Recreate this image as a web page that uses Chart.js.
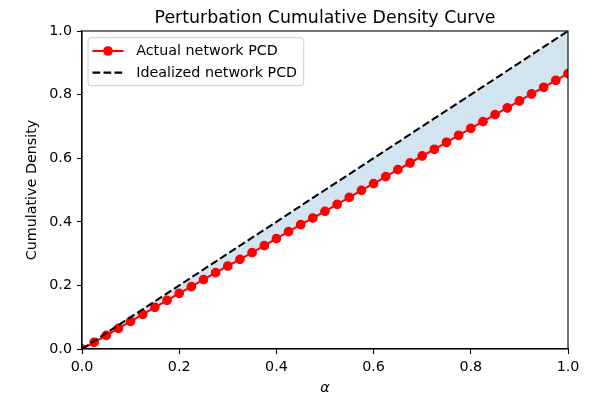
<!DOCTYPE html>
<html>
<head>
<meta charset="utf-8">
<script src="https://cdn.jsdelivr.net/npm/chart.js@4.4.1/dist/chart.umd.min.js"></script>
<style>
html,body{margin:0;padding:0;background:#fff;}
canvas{display:block;}
</style>
</head>
<body>
<canvas id="c" width="598" height="395"></canvas>
<script>
// ---- data ----
const chartTitle = 'Perturbation Cumulative Density Curve';
const xLabel = 'α';
const yLabel = 'Cumulative Density';
const seriesLabels = ['Actual network PCD', 'Idealized network PCD'];
const alphaValues = [0.000,0.025,0.050,0.075,0.100,0.125,0.150,0.175,0.200,0.225,
  0.250,0.275,0.300,0.325,0.350,0.375,0.400,0.425,0.450,0.475,
  0.500,0.525,0.550,0.575,0.600,0.625,0.650,0.675,0.700,0.725,
  0.750,0.775,0.800,0.825,0.850,0.875,0.900,0.925,0.950,0.975,1.000];
const actualPCD = [0.000,0.021,0.043,0.065,0.087,0.109,0.131,0.153,0.175,0.196,
  0.218,0.240,0.261,0.282,0.303,0.325,0.347,0.369,0.391,0.412,
  0.433,0.455,0.477,0.499,0.520,0.542,0.564,0.585,0.607,0.628,
  0.650,0.672,0.694,0.715,0.737,0.758,0.780,0.802,0.823,0.845,0.866];
const idealPCD = [0.000,0.025,0.050,0.075,0.100,0.125,0.150,0.175,0.200,0.225,
  0.250,0.275,0.300,0.325,0.350,0.375,0.400,0.425,0.450,0.475,
  0.500,0.525,0.550,0.575,0.600,0.625,0.650,0.675,0.700,0.725,
  0.750,0.775,0.800,0.825,0.850,0.875,0.900,0.925,0.950,0.975,1.000];
const xTicks = [0, 0.2, 0.4, 0.6, 0.8, 1.0];
const yTicks = [0, 0.2, 0.4, 0.6, 0.8, 1.0];

const FONT = "'DejaVu Sans'";
const FS = 14.3;

const decor = {
  id: 'decor',
  afterDatasetsDraw(chart) {
    const ctx = chart.ctx, a = chart.chartArea;
    ctx.save();
    // spines
    ctx.strokeStyle = '#000';
    ctx.lineWidth = 1.1;
    ctx.strokeRect(a.left, a.top, a.right - a.left, a.bottom - a.top);
    // legend
    ctx.font = FS + 'px ' + FONT;
    const ds = chart.data.datasets;
    let tw = 0;
    seriesLabels.forEach(l => { tw = Math.max(tw, ctx.measureText(l).width); });
    const bx = 88, by = 37.7, pad = 5.6;
    const hx0 = 92.5, hx1 = 123.5, tx = 136.2;
    const bw = (tx - bx) + tw + pad + 1, bh = 48;
    const r = 2.8;
    ctx.beginPath();
    ctx.moveTo(bx + r, by);
    ctx.lineTo(bx + bw - r, by); ctx.quadraticCurveTo(bx + bw, by, bx + bw, by + r);
    ctx.lineTo(bx + bw, by + bh - r); ctx.quadraticCurveTo(bx + bw, by + bh, bx + bw - r, by + bh);
    ctx.lineTo(bx + r, by + bh); ctx.quadraticCurveTo(bx, by + bh, bx, by + bh - r);
    ctx.lineTo(bx, by + r); ctx.quadraticCurveTo(bx, by, bx + r, by);
    ctx.closePath();
    ctx.fillStyle = 'rgba(255,255,255,0.8)';
    ctx.fill();
    ctx.strokeStyle = '#cccccc';
    ctx.lineWidth = 1;
    ctx.stroke();
    const rows = [51.0, 72.6];
    // row 1: red line with marker
    ctx.strokeStyle = ds[0].borderColor;
    ctx.lineWidth = ds[0].borderWidth;
    ctx.setLineDash([]);
    ctx.beginPath(); ctx.moveTo(hx0, rows[0]); ctx.lineTo(hx1, rows[0]); ctx.stroke();
    ctx.fillStyle = ds[0].pointBackgroundColor;
    ctx.beginPath(); ctx.arc((hx0 + hx1) / 2, rows[0], 4.85, 0, Math.PI * 2); ctx.fill();
    // row 2: dashed black
    ctx.strokeStyle = ds[1].borderColor;
    ctx.lineWidth = ds[1].borderWidth;
    ctx.setLineDash(ds[1].borderDash);
    ctx.beginPath(); ctx.moveTo(hx0, rows[1]); ctx.lineTo(hx1, rows[1]); ctx.stroke();
    ctx.setLineDash([]);
    ctx.fillStyle = '#000';
    ctx.textAlign = 'left';
    ctx.textBaseline = 'middle';
    seriesLabels.forEach((l, i) => ctx.fillText(l, tx, rows[i] + 0.5));
    ctx.restore();
  },
  afterDraw(chart) {
    const ctx = chart.ctx, a = chart.chartArea;
    ctx.save();
    ctx.fillStyle = '#000';
    // title
    ctx.font = '17.4px ' + FONT;
    ctx.textAlign = 'center';
    ctx.textBaseline = 'alphabetic';
    ctx.fillText(chartTitle, (a.left + a.right) / 2, 22.7);
    // x label
    ctx.font = 'italic ' + FS + 'px ' + FONT;
    ctx.fillText(xLabel, (a.left + a.right) / 2, 391.5);
    // y label
    ctx.font = FS + 'px ' + FONT;
    ctx.translate(36.3, (a.top + a.bottom) / 2);
    ctx.rotate(-Math.PI / 2);
    ctx.fillText(yLabel, 0, 0);
    ctx.restore();
  }
};

const tickFont = { family: FONT, size: FS };

new Chart(document.getElementById('c'), {
  type: 'line',
  data: {
    datasets: [
      {
        label: seriesLabels[0],
        data: alphaValues.map((x, i) => ({ x: x, y: actualPCD[i] })),
        borderColor: '#ff0000',
        backgroundColor: '#ff0000',
        borderWidth: 2.08,
        pointRadius: 4.2,
        pointBorderWidth: 1.3,
        pointBackgroundColor: '#ff0000',
        pointBorderColor: '#ff0000',
        tension: 0,
        fill: false,
        order: 1,
        clip: 0
      },
      {
        label: seriesLabels[1],
        data: alphaValues.map((x, i) => ({ x: x, y: idealPCD[i] })),
        borderColor: '#000000',
        borderWidth: 2.08,
        borderDash: [7.7, 3.3],
        pointRadius: 0,
        tension: 0,
        fill: '-1',
        backgroundColor: 'rgba(31,119,180,0.2)',
        order: 0,
        clip: 0
      }
    ]
  },
  options: {
    responsive: false,
    animation: false,
    events: [],
    layout: { padding: { left: 0, right: 30, top: 31, bottom: 0 } },
    plugins: {
      legend: { display: false },
      title: { display: false },
      tooltip: { enabled: false },
      filler: { drawTime: 'beforeDatasetsDraw' }
    },
    scales: {
      x: {
        type: 'linear',
        min: 0, max: 1,
        afterFit(s) { s.height = 46; },
        afterBuildTicks(s) { s.ticks = xTicks.map(v => ({ value: v })); },
        ticks: {
          font: tickFont, color: '#000', padding: 5, maxRotation: 0, autoSkip: false,
          callback: v => Number(v).toFixed(1)
        },
        grid: { drawOnChartArea: false, drawTicks: true, tickLength: 5, tickColor: '#000', tickWidth: 1.1, color: '#000' },
        border: { display: true, color: '#000', width: 1.1 }
      },
      y: {
        type: 'linear',
        min: 0, max: 1,
        afterFit(s) { s.width = 82; },
        afterBuildTicks(s) { s.ticks = yTicks.map(v => ({ value: v })); },
        ticks: {
          font: tickFont, color: '#000', padding: 5, autoSkip: false,
          callback: v => Number(v).toFixed(1)
        },
        grid: { drawOnChartArea: false, drawTicks: true, tickLength: 5, tickColor: '#000', tickWidth: 1.1, color: '#000' },
        border: { display: true, color: '#000', width: 1.1 }
      }
    }
  },
  plugins: [decor]
});
</script>
</body>
</html>
